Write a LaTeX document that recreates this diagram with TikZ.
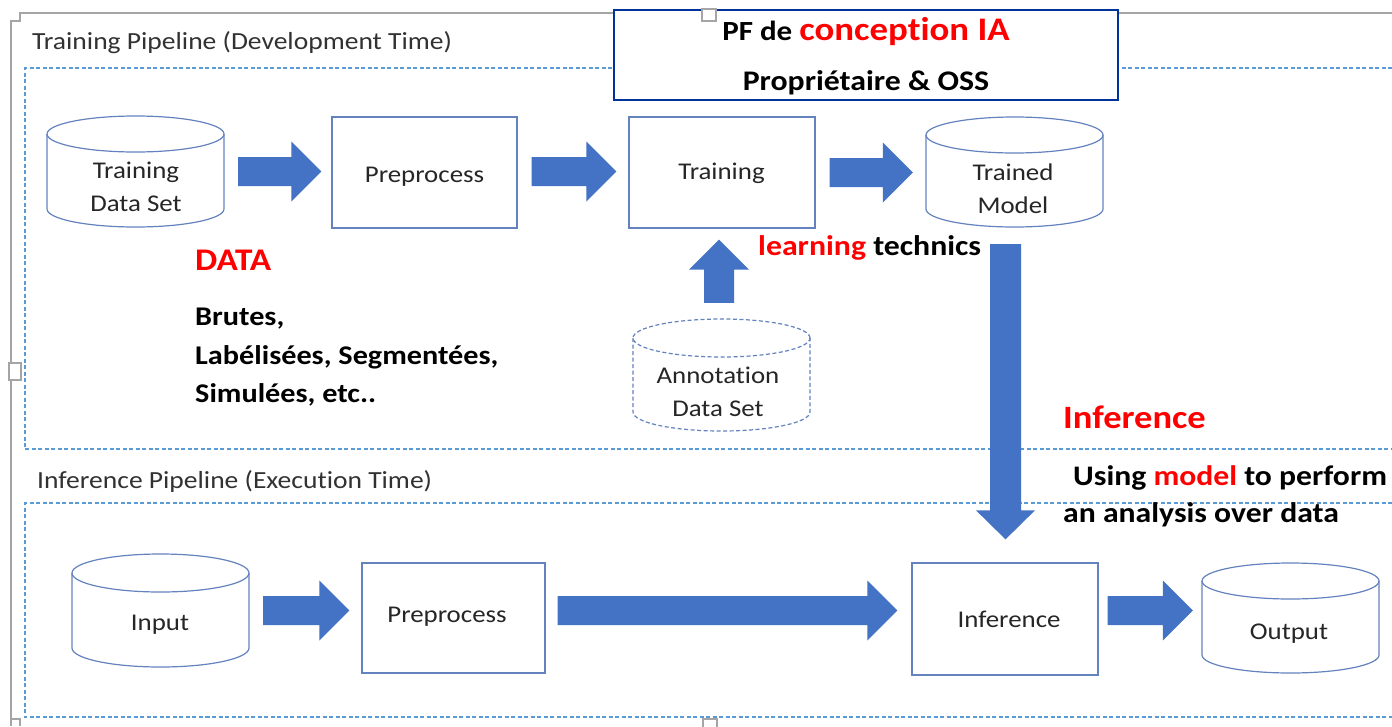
\documentclass[tikz,border=0pt]{standalone}
\usepackage{fontspec}
\setmainfont{Carlito}[FakeStretch=1.12, Ligatures={NoCommon}]
\usetikzlibrary{calc}
\definecolor{arrowblue}{RGB}{68,114,196}
\definecolor{edgeblue}{RGB}{100,130,190}
\definecolor{dashblue}{RGB}{91,155,213}
\definecolor{frameblue}{RGB}{0,51,153}
\definecolor{framegray}{RGB}{165,165,165}
\definecolor{txt}{RGB}{38,38,38}
\definecolor{ttl}{RGB}{50,50,50}

% right-pointing block arrow from #1 to #2 (y taken from #1)
\newcommand\arrR[2]{\fill[blk] let \p1=(#1), \p2=(#2) in
  (\x1,\y1+14.5pt) -- (\x2-30pt,\y1+14.5pt) -- (\x2-30pt,\y1+30pt) -- (\x2,\y1)
  -- (\x2-30pt,\y1-30pt) -- (\x2-30pt,\y1-14.5pt) -- (\x1,\y1-14.5pt) -- cycle;}
% upward block arrow, #1 = bottom of shaft, #2 = tip
\newcommand\arrU[2]{\fill[blk] let \p1=(#1), \p2=(#2) in
  (\x1-15pt,\y1) -- (\x1-15pt,\y2-30pt) -- (\x1-30pt,\y2-30pt) -- (\x1,\y2)
  -- (\x1+30pt,\y2-30pt) -- (\x1+15pt,\y2-30pt) -- (\x1+15pt,\y1) -- cycle;}
% downward block arrow, #1 = top of shaft, #2 = tip
\newcommand\arrD[2]{\fill[blk] let \p1=(#1), \p2=(#2) in
  (\x1-15.5pt,\y1) -- (\x1-15.5pt,\y2+29pt) -- (\x1-29.5pt,\y2+29pt) -- (\x1,\y2)
  -- (\x1+29.5pt,\y2+29pt) -- (\x1+15.5pt,\y2+29pt) -- (\x1+15.5pt,\y1) -- cycle;}
% cylinder: #1 name, #2 left, #3 top, #4 right, #5 bottom, #6 cap radius, #7 style
\newcommand\cylnode[7]{%
  \node[inner sep=0pt, minimum width={(#4-#2)*1pt}, minimum height={(#5-#3)*1pt}]
    (#1) at ({(#2+#4)/2},{(#3+#5)/2}) {};
  \draw[#7] ({(#2+#4)/2},{#3+#6}) ellipse [x radius={(#4-#2)/2*1pt}, y radius={#6*1pt}];
  \draw[#7] (#2,{#3+#6}) -- (#2,{#5-#6})
    arc[start angle=180, end angle=360, x radius={(#4-#2)/2*1pt}, y radius={#6*1pt}]
    -- (#4,{#3+#6});}

\begin{document}
\begin{tikzpicture}[x=1pt,y=-1pt,
  box/.style={draw=edgeblue, line width=1.3pt, fill=white, inner sep=0pt},
  cylline/.style={draw=edgeblue, line width=1.2pt},
  cyldash/.style={draw=edgeblue, line width=1.2pt, dash pattern=on 4pt off 2.5pt},
  lbl/.style={text=txt, font=\fontsize{24}{28}\selectfont, anchor=base, inner sep=0pt},
  ttlstyle/.style={text=ttl, font=\fontsize{24.6}{28}\selectfont, anchor=base west, inner sep=0pt},
  bold/.style={font=\bfseries\fontsize{27}{30}\selectfont, anchor=base west, inner sep=0pt},
  section/.style={draw=dashblue, line width=1.8pt, dash pattern=on 4pt off 2.5pt},
  frame/.style={draw=framegray, line width=1.6pt},
  handle/.style={draw=framegray, line width=1.2pt, fill=white},
  blk/.style={fill=arrowblue}]
\useasboundingbox (0,0) rectangle (1392,726);
\fill[white] (0,0) rectangle (1392,726);

% outer picture frame
\draw[frame] (1392,13) -- (20,13) -- (20,21) -- (11,21) -- (11,726);
\draw[frame] (11,719) -- (20,719) -- (20,726);

% pipeline sections
\draw[section] (1392,68) -- (25,68) -- (25,449) -- (1392,449);
\draw[section] (1392,503) -- (25,503) -- (25,717) -- (1392,717);
\node[ttlstyle] (t1) at (32,49) {Training Pipeline (Development Time)};
\node[ttlstyle] (t2) at (37,488) {Inference Pipeline (Execut\kern0pt ion Time)};

% PF box
\node[draw=frameblue, line width=2pt, fill=white, inner sep=0pt,
      minimum width=504pt, minimum height=90pt] (pf) at (866,54.5) {};
\node[anchor=base, inner sep=0pt, font=\bfseries] (pf1) at (866,40)
  {\fontsize{27.7}{30}\selectfont PF de \textcolor{red}{\fontsize{32.9}{36}\selectfont concept\kern0pt ion IA}};
\node[anchor=base, inner sep=0pt, font=\bfseries\fontsize{28.4}{32}\selectfont] (pf2) at (866,90)
  {Propriétaire \& OSS};

% selection handles
\draw[handle] (702,9) rectangle (716,21);
\draw[handle] (9,363) rectangle (21,380);
\draw[handle] (703,719) rectangle (717,730);

% training row
\cylnode{tds}{47}{116}{224}{227}{18}{cylline}
\node[box, minimum width=185pt, minimum height=111pt] (prep1) at (424.5,172.5) {};
\node[box, minimum width=186pt, minimum height=111pt] (trn) at (722,172.5) {};
\cylnode{trm}{926}{117}{1103}{227}{18}{cylline}
\cylnode{ann}{633}{319}{810}{431}{19}{cyldash}

\node[lbl] (tds1) at (136,178) {Training};
\node[lbl] (tds2) at (136,211) {Data Set};
\node[lbl] (prep1t) at (424.5,182) {Preprocess};
\node[lbl] (trnt) at (721.5,179) {Training};
\node[lbl] (trm1) at (1013,180) {Trained};
\node[lbl] (trm2) at (1013,213) {Model};
\node[lbl] (ann1) at (718,383) {Annotat\kern0pt ion};
\node[lbl] (ann2) at (718,416) {Data Set};

% inference row
\cylnode{inp}{72}{554}{249}{667}{19}{cylline}
\node[box, minimum width=183pt, minimum height=110pt] (prep2) at (453.5,618) {};
\node[box, minimum width=186pt, minimum height=112pt] (inf) at (1005,619) {};
\cylnode{out}{1202}{563}{1379}{673}{18}{cylline}

\node[lbl] (inpt) at (160,630) {Input};
\node[lbl] (prep2t) at (447,622) {Preprocess};
\node[lbl] (inft) at (1009,627) {Inference};
\node[lbl] (outt) at (1289,639) {Output};

% block arrows
\coordinate (a1s) at ($(tds.east)+(14,0)$);
\coordinate (a1e) at ($(prep1.west)+(-10,0)$);
\arrR{a1s}{a1e}
\coordinate (a2s) at ($(prep1.east)+(14,-1)$);
\coordinate (a2e) at ($(trn.west)+(-12,0)$);
\arrR{a2s}{a2e}
\coordinate (a3s) at ($(trn.east)+(14,0)$);
\coordinate (a3e) at ($(trm.west)+(-13,0)$);
\arrR{a3s}{a3e}
\coordinate (a4s) at ($(inp.east)+(14,0)$);
\coordinate (a4e) at ($(prep2.west)+(-12,0)$);
\arrR{a4s}{a4e}
\coordinate (a5s) at ($(prep2.east |- inp.center)+(12,0)$);
\coordinate (a5e) at ($(inf.west)+(-14,0)$);
\arrR{a5s}{a5e}
\coordinate (a6s) at ($(inf.east |- inp.center)+(9,0)$);
\coordinate (a6e) at ($(out.west)+(-9,0)$);
\arrR{a6s}{a6e}
\coordinate (aus) at ($(ann.north)+(-2.5,-16)$);
\coordinate (aue) at ($(trn.south)+(0,11)$);
\arrU{aus}{aue}
\coordinate (ads) at ($(trm.south)+(-9,17)$);
\coordinate (ade) at ($(inf.north)+(0,-23)$);
\arrD{ads}{ade}

% annotations
\node[anchor=base west, inner sep=0pt, text=red, font=\bfseries\fontsize{31.5}{34}\selectfont] (data) at (195,270) {DATA};
\node[bold] (d1) at (195,325) {Brutes,};
\node[bold] (d2) at (195,364) {Labélisées, Segmentées,};
\node[bold] (d3) at (195,402) {Simulées, etc..};
\node[anchor=base west, inner sep=0pt, font=\bfseries\fontsize{28.4}{32}\selectfont] (lt) at (758,255)
  {\textcolor{red}{learning} technics};
\node[anchor=base west, inner sep=0pt, text=red, font=\bfseries\fontsize{32.6}{36}\selectfont] (infl) at (1063,428) {Inference};
\node[anchor=base west, inner sep=0pt, font=\bfseries\fontsize{28.3}{32}\selectfont] (u1) at (1073,485)
  {Using \textcolor{red}{model} to perform};
\node[anchor=base west, inner sep=0pt, font=\bfseries\fontsize{28.3}{32}\selectfont] (u2) at (1063,522)
  {an analysis over data};
\end{tikzpicture}
\end{document}
